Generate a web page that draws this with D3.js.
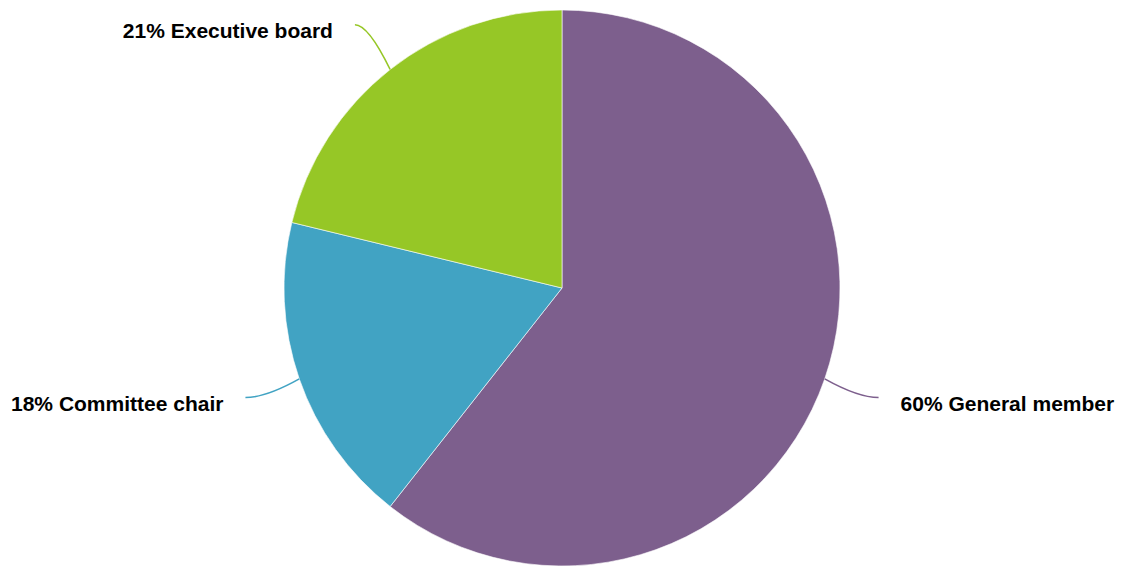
<!DOCTYPE html>
<html>
<head>
<meta charset="utf-8">
<script src="https://cdn.jsdelivr.net/npm/d3@7"></script>
<style>
  html, body { margin: 0; padding: 0; background: #fff; }
  svg { display: block; }
  .lbl { font-family: "Liberation Sans", Arial, Helvetica, sans-serif; font-weight: bold; font-size: 21px; fill: #000; }
</style>
</head>
<body>
<svg id="chart" width="1124" height="569"></svg>
<script>
// Member roles, share in percent
const categories = ["General member", "Committee chair", "Executive board"];
const values = [60, 18, 21];
const colors = ["#7d5f8d", "#41a3c3", "#96c726"];

const width = 1124, height = 569;
const cx = 562, cy = 288, radius = 278;

const svg = d3.select("#chart");
const g = svg.append("g").attr("transform", `translate(${cx},${cy})`);

const pie = d3.pie().sort(null).value(d => d.value);
const data = categories.map((c, i) => ({ name: c, value: values[i], color: colors[i] }));
const arcs = pie(data);

const arc = d3.arc().innerRadius(0).outerRadius(radius);

g.selectAll("path.slice")
  .data(arcs)
  .enter().append("path")
  .attr("class", "slice")
  .attr("d", arc)
  .attr("fill", d => d.data.color)
  .attr("stroke", "#ffffff")
  .attr("stroke-width", 0.6)
  .attr("stroke-linejoin", "round");

// Curved leader lines from the slice edge to the label
const pointAt = (angle, r) => [Math.sin(angle) * r, -Math.cos(angle) * r];

arcs.forEach(d => {
  const mid = (d.startAngle + d.endAngle) / 2;
  const p0 = pointAt(mid, radius);
  const p2 = pointAt(mid, radius * 1.205);
  const c = [p0[0] + (p2[0] - p0[0]) * 0.62, p2[1]];
  const path = d3.path();
  path.moveTo(p0[0], p0[1]);
  path.quadraticCurveTo(c[0], c[1], p2[0], p2[1]);
  g.append("path")
    .attr("d", path.toString())
    .attr("fill", "none")
    .attr("stroke", d.data.color)
    .attr("stroke-width", 1.6);

  const right = p2[0] > 0;
  g.append("text")
    .attr("class", "lbl")
    .attr("x", p2[0] + (right ? 22 : -22))
    .attr("y", p2[1] + 6)
    .attr("dy", "0.35em")
    .attr("text-anchor", right ? "start" : "end")
    .text(`${d.data.value}% ${d.data.name}`);
});
</script>
</body>
</html>
